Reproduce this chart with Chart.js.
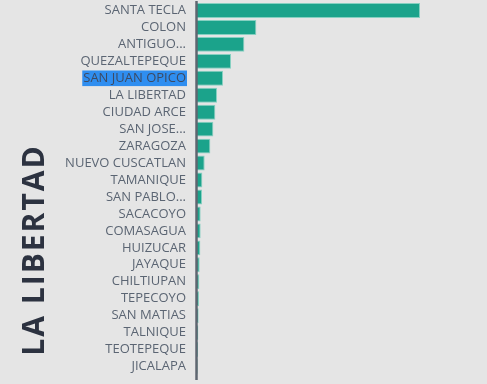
<!DOCTYPE html>
<html>
<head>
<meta charset="utf-8">
<script src="https://cdn.jsdelivr.net/npm/chart.js@4/dist/chart.umd.min.js"></script>
<style>
  html, body { margin: 0; padding: 0; background: #e5e5e5; }
  #wrap { width: 487px; height: 384px; position: relative; }
</style>
</head>
<body>
<div id="wrap"><canvas id="c" width="487" height="384"></canvas></div>
<script>
const categories = ["SANTA TECLA","COLON","ANTIGUO...","QUEZALTEPEQUE","SAN JUAN OPICO","LA LIBERTAD","CIUDAD ARCE","SAN JOSE...","ZARAGOZA","NUEVO CUSCATLAN","TAMANIQUE","SAN PABLO...","SACACOYO","COMASAGUA","HUIZUCAR","JAYAQUE","CHILTIUPAN","TEPECOYO","SAN MATIAS","TALNIQUE","TEOTEPEQUE","JICALAPA"];
const values = [669,178,142,102,78,60,55,49,40,23,16,15,11,11,10,8,7,6,5,4,3,2];
const axisTitle = "LA LIBERTAD";
const highlighted = "SAN JUAN OPICO";
const xMax = 840;

const titlePlugin = {
  id: 'sideTitle',
  afterDraw(chart) {
    const ctx = chart.ctx;
    const a = chart.chartArea;
    ctx.save();
    // axis line
    ctx.strokeStyle = '#5f6670';
    ctx.lineWidth = 2.5;
    ctx.beginPath();
    ctx.moveTo(a.left - 0.5, a.top - 1);
    ctx.lineTo(a.left - 0.5, a.bottom + 5);
    ctx.stroke();
    // title
    ctx.translate(35, 250);
    ctx.rotate(-Math.PI / 2);
    ctx.fillStyle = '#2c3240';
    ctx.font = 'bold 30px "Open Sans"';
    try { ctx.letterSpacing = '2px'; } catch (e) {}
    ctx.textAlign = 'center';
    ctx.textBaseline = 'middle';
    ctx.fillText(axisTitle, 0, 0);
    ctx.restore();
  }
};

new Chart(document.getElementById('c'), {
  type: 'bar',
  data: {
    labels: categories,
    datasets: [{
      data: values,
      backgroundColor: '#1ba38b',
      borderColor: '#86d0c1',
      borderWidth: 1,
      barPercentage: 0.88,
      categoryPercentage: 1
    }]
  },
  options: {
    indexAxis: 'y',
    responsive: false,
    animation: false,
    layout: { padding: { top: 2, bottom: 9, right: 10, left: 0 } },
    plugins: { legend: { display: false }, tooltip: { enabled: false } },
    scales: {
      x: { display: false, min: 0, max: xMax },
      y: {
        grid: { display: false, drawTicks: false },
        border: { display: false },
        afterFit(scale) { scale.width = 197; scale.paddingTop = 0; scale.paddingBottom = 0; },
        ticks: {
          padding: 11,
          autoSkip: false,
          color: (c) => c.index === categories.indexOf(highlighted) ? '#3d4a63' : '#5b6573',
          font: { family: '"Open Sans"', size: 13 },
          showLabelBackdrop: (c) => c.index === categories.indexOf(highlighted),
          backdropColor: '#2f8ef0',
          backdropPadding: { top: 0, bottom: 0, left: 1, right: 1 }
        }
      }
    }
  },
  plugins: [titlePlugin]
});
</script>
</body>
</html>
